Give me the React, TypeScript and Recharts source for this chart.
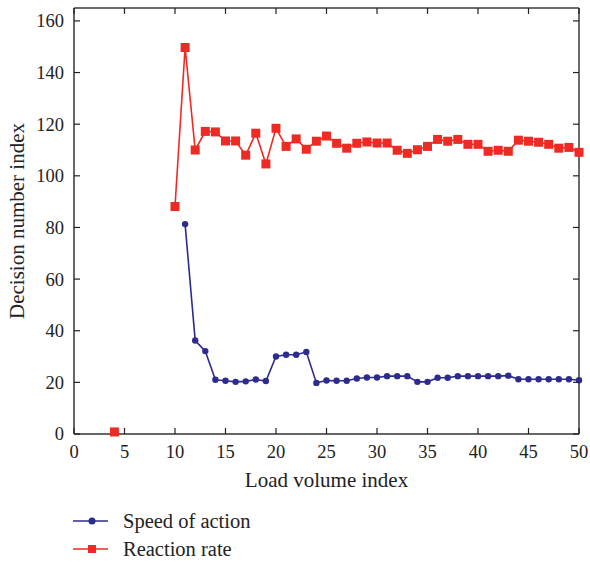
import React from "react"
import { LineChart, Line, XAxis, YAxis } from "recharts"

// load volume index 1..50
const loadIndex = [
    1, 2, 3, 4, 5, 6, 7, 8, 9, 10,
    11, 12, 13, 14, 15, 16, 17, 18, 19, 20,
    21, 22, 23, 24, 25, 26, 27, 28, 29, 30,
    31, 32, 33, 34, 35, 36, 37, 38, 39, 40,
    41, 42, 43, 44, 45, 46, 47, 48, 49, 50,
]

const speedOfAction = [
    null, null, null, null, null, null, null, null, null, null,
    81.3, 36.2, 32.1, 21.0, 20.6, 20.2, 20.4, 21.1, 20.5, 30.0,
    30.7, 30.7, 31.8, 19.8, 20.7, 20.6, 20.6, 21.5, 21.9, 21.9,
    22.4, 22.4, 22.4, 20.2, 20.2, 21.8, 21.8, 22.4, 22.4, 22.4,
    22.4, 22.4, 22.6, 21.2, 21.2, 21.2, 21.2, 21.2, 21.2, 20.8,
]

const reactionRate = [
    null, null, null, 0.8, null, null, null, null, null, 88.1,
    149.7, 110.0, 117.2, 117.0, 113.5, 113.5, 108.0, 116.5, 104.6, 118.4,
    111.4, 114.3, 110.3, 113.4, 115.4, 112.6, 110.7, 112.6, 113.1, 112.7,
    112.7, 109.9, 108.7, 110.1, 111.4, 114.1, 113.4, 114.1, 112.2, 112.2,
    109.5, 109.9, 109.5, 113.8, 113.4, 113.0, 112.2, 110.7, 111.0, 109.1,
]

const xTicks = [0, 5, 10, 15, 20, 25, 30, 35, 40, 45, 50]
const yTicks = [0, 20, 40, 60, 80, 100, 120, 140, 160]

const BLUE = "#2e2b8f"
const RED = "#ee2a24"
const FONT = "'Liberation Serif', 'Times New Roman', serif"

const series = [
    { key: "speed", name: "Speed of action", color: BLUE, marker: "circle" },
    { key: "reaction", name: "Reaction rate", color: RED, marker: "square" },
]

const data = loadIndex.map((x, i) => ({
    x,
    speed: speedOfAction[i],
    reaction: reactionRate[i],
}))

const BottomTick = ({ x, y, payload }: any) => (
    <g>
        <line x1={x} y1={y} x2={x} y2={y - 6} stroke="#222" strokeWidth={1.2} />
        <text x={x} y={y + 24} textAnchor="middle" fontSize={18.5} fontFamily={FONT} fill="#222">
            {payload.value}
        </text>
    </g>
)

const TopTick = ({ x, y }: any) => (
    <line x1={x} y1={y} x2={x} y2={y + 6} stroke="#222" strokeWidth={1.2} />
)

const LeftTick = ({ x, y, payload }: any) => (
    <g>
        <line x1={x} y1={y} x2={x + 6} y2={y} stroke="#222" strokeWidth={1.2} />
        <text x={x - 10} y={y} dy="0.35em" textAnchor="end" fontSize={18.5} fontFamily={FONT} fill="#222">
            {payload.value}
        </text>
    </g>
)

const RightTick = ({ x, y }: any) => (
    <line x1={x} y1={y} x2={x - 6} y2={y} stroke="#222" strokeWidth={1.2} />
)

const SquareDot = (props: any) => {
    const { cx, cy, index } = props
    if (cx == null || cy == null || props.value == null) return <g key={`sq-${index}`} />
    return <rect key={`sq-${index}`} x={cx - 4.5} y={cy - 4.5} width={9} height={9} fill={RED} />
}

const CircleDot = (props: any) => {
    const { cx, cy, index } = props
    if (cx == null || cy == null || props.value == null) return <g key={`ci-${index}`} />
    return <circle key={`ci-${index}`} cx={cx} cy={cy} r={3.2} fill={BLUE} />
}

const LegendBox = () => (
    <div
        style={{
            position: "absolute",
            left: 73,
            top: 507,
            fontFamily: FONT,
            fontSize: 20.5,
            color: "#222",
        }}
    >
        {series.map((s) => (
            <div key={s.key} style={{ display: "flex", alignItems: "center", height: 28 }}>
                <svg width={50} height={12}>
                    <line x1={0} y1={6} x2={35} y2={6} stroke={s.color} strokeWidth={1.5} />
                    {s.marker === "circle" ? (
                        <circle cx={19} cy={6} r={3.5} fill={s.color} />
                    ) : (
                        <rect x={15} y={2} width={8} height={8} fill={s.color} />
                    )}
                </svg>
                <span>{s.name}</span>
            </div>
        ))}
    </div>
)

export default function App() {
    return (
        <div style={{ position: "absolute", left: 0, top: 0, width: 590, height: 565, background: "#fff" }}>
            <LineChart
                width={590}
                height={565}
                data={data}
                margin={{ top: 7, right: 10, left: 30, bottom: 101 }}
            >
                <XAxis
                    dataKey="x"
                    type="number"
                    domain={[0, 50]}
                    ticks={xTicks}
                    height={30}
                    tickSize={0}
                    tickMargin={0}
                    tick={<BottomTick />}
                    axisLine={{ stroke: "#333", strokeWidth: 1.5 }}
                    label={{
                        content: ({ viewBox }: any) => (
                            <text
                                x={viewBox.x + viewBox.width / 2}
                                y={viewBox.y + 53}
                                textAnchor="middle"
                                fontSize={21}
                                fontFamily={FONT}
                                fill="#222"
                            >
                                Load volume index
                            </text>
                        ),
                    }}
                />
                <XAxis
                    xAxisId="top"
                    orientation="top"
                    dataKey="x"
                    type="number"
                    domain={[0, 50]}
                    ticks={xTicks}
                    allowDataOverflow
                    height={1}
                    tickSize={0}
                    tickMargin={0}
                    tick={<TopTick />}
                    axisLine={{ stroke: "#6b6b6b", strokeWidth: 2 }}
                />
                <YAxis
                    type="number"
                    domain={[0, 165]}
                    ticks={yTicks}
                    width={44}
                    tickSize={0}
                    tickMargin={0}
                    tick={<LeftTick />}
                    axisLine={{ stroke: "#333", strokeWidth: 1.5 }}
                    label={{
                        content: ({ viewBox }: any) => {
                            const cx = viewBox.x + viewBox.width - 57
                            const cy = viewBox.y + viewBox.height / 2
                            return (
                                <text
                                    x={cx}
                                    y={cy}
                                    transform={`rotate(-90 ${cx} ${cy})`}
                                    textAnchor="middle"
                                    dominantBaseline="central"
                                    fontSize={21}
                                    fontFamily={FONT}
                                    fill="#222"
                                >
                                    Decision number index
                                </text>
                            )
                        },
                    }}
                />
                <YAxis
                    yAxisId="right"
                    orientation="right"
                    type="number"
                    domain={[0, 165]}
                    ticks={yTicks}
                    allowDataOverflow
                    width={1}
                    tickSize={0}
                    tickMargin={0}
                    tick={<RightTick />}
                    axisLine={{ stroke: "#6b6b6b", strokeWidth: 2 }}
                />
                <Line
                    dataKey="speed"
                    name="Speed of action"
                    stroke={BLUE}
                    strokeWidth={1.6}
                    dot={<CircleDot />}
                    activeDot={false}
                    connectNulls={false}
                    isAnimationActive={false}
                />
                <Line
                    dataKey="reaction"
                    name="Reaction rate"
                    stroke={RED}
                    strokeWidth={1.6}
                    dot={<SquareDot />}
                    activeDot={false}
                    connectNulls={false}
                    isAnimationActive={false}
                />
            </LineChart>
            <LegendBox />
        </div>
    )
}
